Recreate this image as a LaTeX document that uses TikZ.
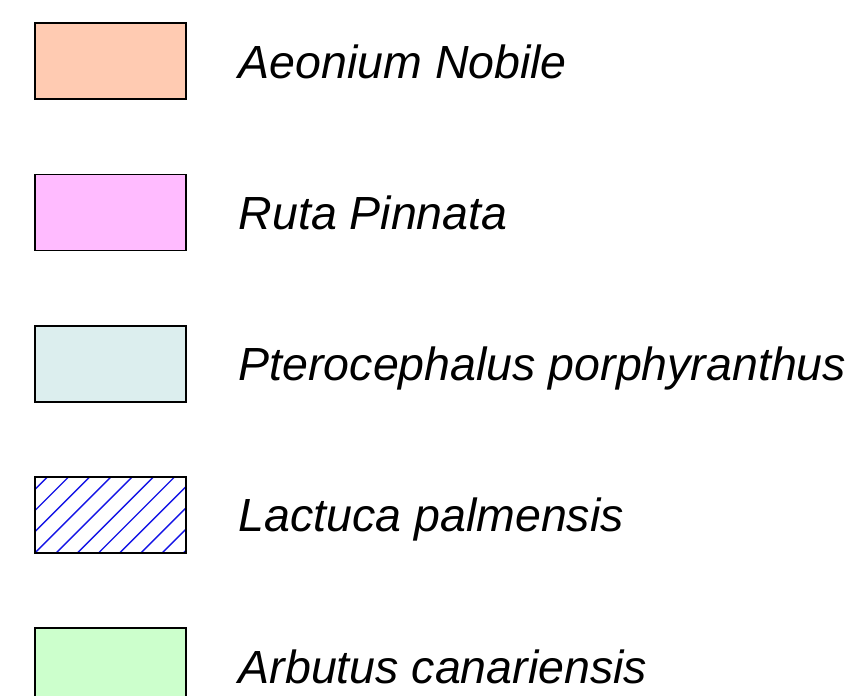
\documentclass[tikz,border=0pt]{standalone}
\usepackage{fontspec}
\setmainfont{Liberation Sans}
\usetikzlibrary{calc}
\begin{document}
\begin{tikzpicture}[x=1pt,y=-1pt,
  swatch/.style={draw=black,line width=1.8pt,rectangle,minimum width=151pt,minimum height=76pt,inner sep=0pt},
  lab/.style={anchor=base west,inner sep=0pt,font=\fontsize{46.5}{56}\selectfont\itshape},
  hatch/.style={draw={rgb,255:red,20;green,20;blue,230},line width=1.4pt}]
\clip (0,0) rectangle (854,696);
\fill[white] (0,0) rectangle (854,696);
\definecolor{peach}{RGB}{255,203,178}
\definecolor{pinkish}{RGB}{255,187,255}
\definecolor{paleblue}{RGB}{220,238,238}
\definecolor{palegreen}{RGB}{204,255,204}
\node[swatch,fill=peach] (b1) at (110.5,61.3) {};
\node[swatch,fill=pinkish] (b2) at (110.5,212.5) {};
\node[swatch,fill=paleblue] (b3) at (110.5,363.7) {};
\node[swatch,fill=white] (b4) at (110.5,514.9) {};
\node[swatch,fill=palegreen] (b5) at (110.5,666.1) {};
\begin{scope}
  \clip (b4.south west) rectangle (b4.north east);
  \foreach \k in {-4,...,8} {
    \draw[hatch] ($(b4.south west)+(21.2*\k,0)$) -- ++(80,-80);
  }
\end{scope}
\node[swatch] at (b4) {};
\node[lab] (t1) at (238.5,78.3) {Aeonium Nobile};
\node[lab] (t2) at (238.5,229.5) {Ruta Pinnata};
\node[lab] (t3) at (238.5,380.7) {Pterocephalus porphyranthus};
\node[lab] (t4) at (238.5,531.9) {Lactuca palmensis};
\node[lab] (t5) at (238.5,683.1) {Arbutus canariensis};
\end{tikzpicture}
\end{document}
